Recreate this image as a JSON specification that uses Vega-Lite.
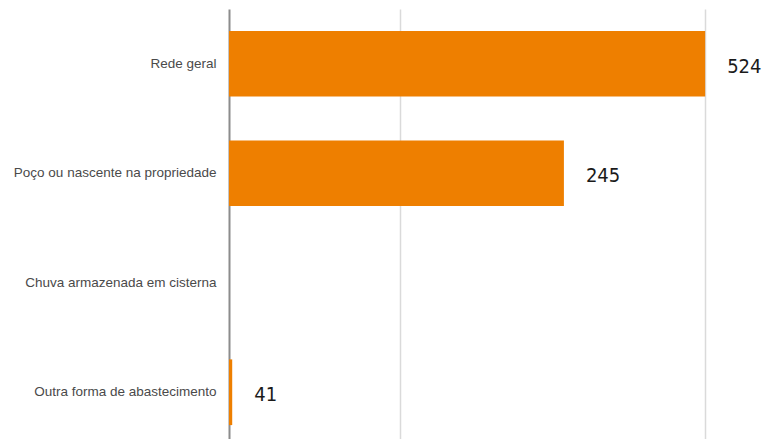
{
  "$schema": "https://vega.github.io/schema/vega-lite/v6.json",
  "autosize": "none",
  "padding": {"left": 229, "top": 9, "right": 0, "bottom": 0},
  "width": 535,
  "height": 438,
  "background": "white",
  "data": {
    "values": [
      {"categoria": "Rede geral", "comprimento": 89.0, "rotulo": "524"},
      {"categoria": "Poço ou nascente na propriedade", "comprimento": 62.6, "rotulo": "245"},
      {"categoria": "Chuva armazenada em cisterna", "comprimento": 0, "rotulo": null},
      {"categoria": "Outra forma de abastecimento", "comprimento": 0.6, "rotulo": "41"}
    ]
  },
  "encoding": {
    "y": {
      "field": "categoria",
      "type": "nominal",
      "sort": null,
      "scale": {"paddingInner": 0.4, "paddingOuter": 0.2},
      "axis": {
        "title": null,
        "ticks": false,
        "domain": true,
        "domainColor": "#8c8c8c",
        "domainWidth": 2,
        "labelPadding": 13,
        "labelFont": "Liberation Sans",
        "labelFontSize": 13.5,
        "labelColor": "#4a4a4a",
        "labelLimit": 300,
        "grid": false
      }
    },
    "x": {
      "field": "comprimento",
      "type": "quantitative",
      "scale": {"domain": [0, 100], "nice": false, "zero": true},
      "axis": {
        "title": null,
        "values": [32, 89],
        "labels": false,
        "ticks": false,
        "domain": false,
        "grid": true,
        "gridColor": "#dadada",
        "gridWidth": 1.5
      }
    }
  },
  "layer": [
    {"mark": {"type": "bar", "color": "#ee7f00"}},
    {
      "transform": [{"filter": "datum.rotulo != null"}],
      "mark": {
        "type": "text",
        "align": "left",
        "baseline": "middle",
        "dx": 22,
        "dy": 3,
        "font": "DejaVu Sans Condensed, Liberation Sans, sans-serif",
        "fontSize": 20,
        "color": "#1a1a1a"
      },
      "encoding": {"text": {"field": "rotulo", "type": "nominal"}}
    }
  ],
  "config": {"view": {"stroke": null}}
}
